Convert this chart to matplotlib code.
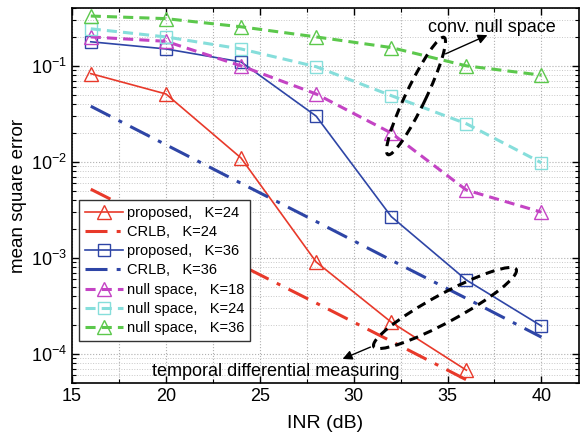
import matplotlib
matplotlib.use("Agg")
import matplotlib.pyplot as plt
from matplotlib.patches import Ellipse, FancyArrowPatch
from matplotlib.transforms import IdentityTransform
from matplotlib.ticker import LogLocator, MultipleLocator, NullFormatter

plt.rcParams['font.family'] = ['Liberation Sans', 'DejaVu Sans']
plt.rcParams['mathtext.fontset'] = 'custom'
plt.rcParams['mathtext.rm'] = 'Liberation Sans'

inr = [16, 20, 24, 28, 32, 36, 40]

prop24 = [0.083, 0.051, 0.011, 9.1e-4, 2.15e-4, 6.8e-5]
crlb24 = [5.2e-3, 2.1e-3, 8.4e-4, 3.4e-4, 1.36e-4, 5.4e-5]
prop36 = [0.178, 0.15, 0.11, 0.030, 2.7e-3, 5.9e-4, 1.96e-4]
crlb36 = [0.038, 0.0151, 0.0060, 0.0024, 9.5e-4, 3.8e-4, 1.5e-4]
null18 = [0.20, 0.18, 0.10, 0.051, 0.020, 0.0051, 0.0030]
null24 = [0.243, 0.20, 0.15, 0.098, 0.049, 0.025, 0.0098]
null36 = [0.33, 0.31, 0.255, 0.20, 0.155, 0.10, 0.080]

red = '#e8392a'
blue = '#2e45a6'
magenta = '#c444c4'
cyan = '#86dedb'
green = '#5cc84c'

W, H = 581, 445
fig = plt.figure(figsize=(W / 100, H / 100), dpi=100)
ax = fig.add_axes([72 / W, 1 - 383 / H, (579 - 72) / W, (383 - 8) / H])

dashdot = (7.2, 3, 1.3, 3)
dashed = (3.3, 2)
ms = 9.5

ax.plot(inr[:6], prop24, color=red, lw=1.2, marker='^', ms=ms, mfc='none', mew=1.0,
        label='proposed,   K=24')
ax.plot(inr[:6], crlb24, color=red, lw=2.2, dashes=dashdot, label='CRLB,   K=24')
ax.plot(inr, prop36, color=blue, lw=1.2, marker='s', ms=8, mfc='none', mew=1.0,
        label='proposed,   K=36')
ax.plot(inr, crlb36, color=blue, lw=2.2, dashes=dashdot, label='CRLB,   K=36')
ax.plot(inr, null18, color=magenta, lw=2.2, dashes=dashed, marker='^', ms=ms, mfc='none',
        mew=1.0, label='null space,   K=18')
ax.plot(inr, null24, color=cyan, lw=2.2, dashes=dashed, marker='s', ms=8, mfc='none',
        mew=1.0, label='null space,   K=24')
ax.plot(inr, null36, color=green, lw=2.2, dashes=dashed, marker='^', ms=ms, mfc='none',
        mew=1.0, label='null space,   K=36')

ax.set_yscale('log')
ax.set_xlim(15, 42)
ax.set_ylim(5e-5, 0.4)
ax.xaxis.set_major_locator(MultipleLocator(5))
ax.xaxis.set_minor_locator(MultipleLocator(2.5))
ax.yaxis.set_major_locator(LogLocator(base=10, numticks=10))
ax.yaxis.set_minor_locator(LogLocator(base=10, subs=range(2, 10), numticks=20))
ax.yaxis.set_minor_formatter(NullFormatter())
ax.tick_params(which='both', direction='in', top=True, right=True, labelsize=13)
ax.tick_params(which='major', length=5, width=1)
ax.tick_params(which='minor', length=3, width=0.8)
ax.grid(True, which='major', color='#b0b0b0', ls=':', lw=0.8)
ax.grid(True, which='minor', color='#c8c8c8', ls=':', lw=0.7)
ax.xaxis.grid(True, which='minor', color='#b0b0b0', ls=':', lw=0.8)
for s in ax.spines.values():
    s.set_linewidth(1.2)

ax.set_xlabel('INR (dB)', fontsize=14, labelpad=7)
ax.set_ylabel('mean square error', fontsize=13.5, labelpad=3)

leg = ax.legend(loc='lower left', bbox_to_anchor=(0.014, 0.112), fontsize=10.5,
                handlelength=2.6, handletextpad=0.3, labelspacing=0.36,
                borderpad=0.4, borderaxespad=0, fancybox=False, framealpha=1,
                edgecolor='#333333')
leg.get_frame().set_linewidth(1.0)

# annotation loops (pixel coordinates, y measured from the bottom)
ell1 = Ellipse((416, H - 96), 130, 20, angle=64.4, fill=False, ec='black', lw=2.2,
               ls=(0, (3, 2)), transform=IdentityTransform())
ell2 = Ellipse((445, H - 308), 162, 28, angle=28.5, fill=False, ec='black', lw=2.2,
               ls=(0, (3, 2)), transform=IdentityTransform())
fig.add_artist(ell1)
fig.add_artist(ell2)
arr1 = FancyArrowPatch((443, H - 55), (490, H - 34), arrowstyle='-|>', mutation_scale=14,
                       color='black', lw=1.0, transform=IdentityTransform())
arr2 = FancyArrowPatch((373, H - 346), (340, H - 360), arrowstyle='-|>', mutation_scale=14,
                       color='black', lw=1.0, transform=IdentityTransform())
fig.add_artist(arr1)
fig.add_artist(arr2)
fig.text(492 / W, 1 - 27 / H, 'conv. null space', fontsize=13, ha='center', va='center')
fig.text(276 / W, 1 - 372 / H, 'temporal differential measuring', fontsize=13,
         ha='center', va='center')

fig.savefig('out.png', dpi=100)
